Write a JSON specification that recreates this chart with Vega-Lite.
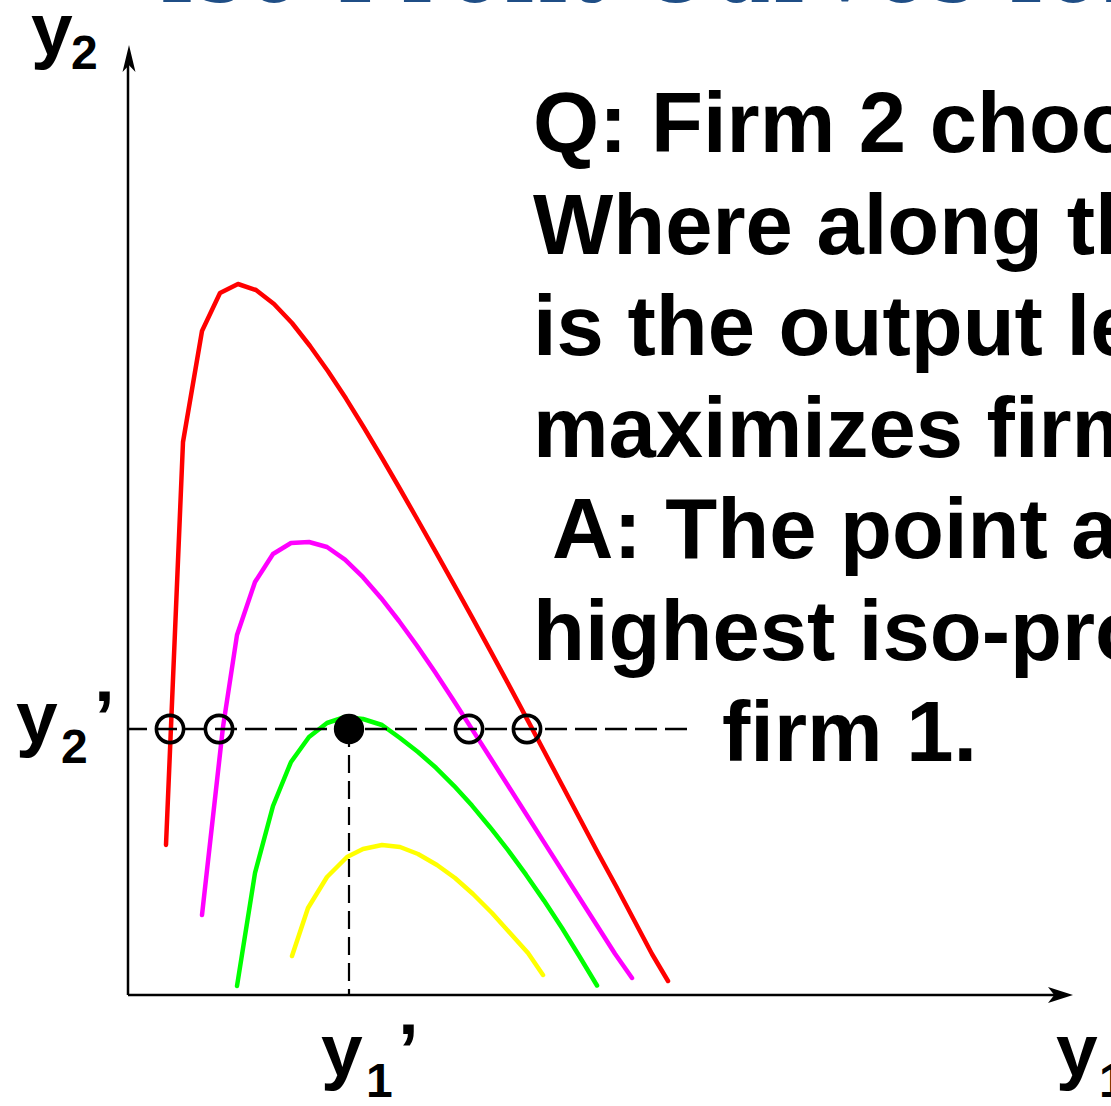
{
  "$schema": "https://vega.github.io/schema/vega-lite/v6.json",
  "width": 1111,
  "height": 1106,
  "autosize": "none",
  "padding": 0,
  "background": "white",
  "config": {"view": {"stroke": null}},
  "datasets": {
    "curves": [
      {"curve": "high", "i": 0, "x": 0.38, "y": 1.50},
      {"curve": "high", "i": 1, "x": 0.55, "y": 5.53},
      {"curve": "high", "i": 2, "x": 0.74, "y": 6.64},
      {"curve": "high", "i": 3, "x": 0.92, "y": 7.02},
      {"curve": "high", "i": 4, "x": 1.10, "y": 7.11},
      {"curve": "high", "i": 5, "x": 1.28, "y": 7.05},
      {"curve": "high", "i": 6, "x": 1.46, "y": 6.91},
      {"curve": "high", "i": 7, "x": 1.64, "y": 6.72},
      {"curve": "high", "i": 8, "x": 1.82, "y": 6.49},
      {"curve": "high", "i": 9, "x": 2.00, "y": 6.238},
      {"curve": "high", "i": 10, "x": 2.18, "y": 5.964},
      {"curve": "high", "i": 11, "x": 2.36, "y": 5.672},
      {"curve": "high", "i": 12, "x": 2.54, "y": 5.37},
      {"curve": "high", "i": 13, "x": 2.72, "y": 5.06},
      {"curve": "high", "i": 14, "x": 2.90, "y": 4.745},
      {"curve": "high", "i": 15, "x": 3.08, "y": 4.426},
      {"curve": "high", "i": 16, "x": 3.26, "y": 4.104},
      {"curve": "high", "i": 17, "x": 3.44, "y": 3.778},
      {"curve": "high", "i": 18, "x": 3.62, "y": 3.449},
      {"curve": "high", "i": 19, "x": 3.80, "y": 3.116},
      {"curve": "high", "i": 20, "x": 3.98, "y": 2.779},
      {"curve": "high", "i": 21, "x": 4.16, "y": 2.44},
      {"curve": "high", "i": 22, "x": 4.34, "y": 2.10},
      {"curve": "high", "i": 23, "x": 4.52, "y": 1.76},
      {"curve": "high", "i": 24, "x": 4.70, "y": 1.42},
      {"curve": "high", "i": 25, "x": 4.88, "y": 1.09},
      {"curve": "high", "i": 26, "x": 5.06, "y": 0.75},
      {"curve": "high", "i": 27, "x": 5.24, "y": 0.41},
      {"curve": "high", "i": 28, "x": 5.40, "y": 0.14},

      {"curve": "upper", "i": 0, "x": 0.74, "y": 0.80},
      {"curve": "upper", "i": 1, "x": 0.95, "y": 2.68},
      {"curve": "upper", "i": 2, "x": 1.09, "y": 3.60},
      {"curve": "upper", "i": 3, "x": 1.27, "y": 4.13},
      {"curve": "upper", "i": 4, "x": 1.45, "y": 4.41},
      {"curve": "upper", "i": 5, "x": 1.63, "y": 4.52},
      {"curve": "upper", "i": 6, "x": 1.81, "y": 4.53},
      {"curve": "upper", "i": 7, "x": 1.99, "y": 4.48},
      {"curve": "upper", "i": 8, "x": 2.17, "y": 4.354},
      {"curve": "upper", "i": 9, "x": 2.35, "y": 4.178},
      {"curve": "upper", "i": 10, "x": 2.53, "y": 3.971},
      {"curve": "upper", "i": 11, "x": 2.71, "y": 3.74},
      {"curve": "upper", "i": 12, "x": 2.89, "y": 3.492},
      {"curve": "upper", "i": 13, "x": 3.07, "y": 3.229},
      {"curve": "upper", "i": 14, "x": 3.25, "y": 2.955},
      {"curve": "upper", "i": 15, "x": 3.43, "y": 2.674},
      {"curve": "upper", "i": 16, "x": 3.61, "y": 2.393},
      {"curve": "upper", "i": 17, "x": 3.79, "y": 2.11},
      {"curve": "upper", "i": 18, "x": 3.97, "y": 1.827},
      {"curve": "upper", "i": 19, "x": 4.15, "y": 1.544},
      {"curve": "upper", "i": 20, "x": 4.33, "y": 1.261},
      {"curve": "upper", "i": 21, "x": 4.51, "y": 0.978},
      {"curve": "upper", "i": 22, "x": 4.69, "y": 0.695},
      {"curve": "upper", "i": 23, "x": 4.87, "y": 0.412},
      {"curve": "upper", "i": 24, "x": 5.04, "y": 0.17},

      {"curve": "best", "i": 0, "x": 1.09, "y": 0.09},
      {"curve": "best", "i": 1, "x": 1.27, "y": 1.22},
      {"curve": "best", "i": 2, "x": 1.45, "y": 1.89},
      {"curve": "best", "i": 3, "x": 1.63, "y": 2.33},
      {"curve": "best", "i": 4, "x": 1.81, "y": 2.58},
      {"curve": "best", "i": 5, "x": 1.99, "y": 2.72},
      {"curve": "best", "i": 6, "x": 2.17, "y": 2.78},
      {"curve": "best", "i": 7, "x": 2.35, "y": 2.76},
      {"curve": "best", "i": 8, "x": 2.54, "y": 2.70},
      {"curve": "best", "i": 9, "x": 2.72, "y": 2.57},
      {"curve": "best", "i": 10, "x": 2.90, "y": 2.43},
      {"curve": "best", "i": 11, "x": 3.08, "y": 2.272},
      {"curve": "best", "i": 12, "x": 3.26, "y": 2.092},
      {"curve": "best", "i": 13, "x": 3.44, "y": 1.894},
      {"curve": "best", "i": 14, "x": 3.62, "y": 1.678},
      {"curve": "best", "i": 15, "x": 3.80, "y": 1.448},
      {"curve": "best", "i": 16, "x": 3.98, "y": 1.203},
      {"curve": "best", "i": 17, "x": 4.16, "y": 0.944},
      {"curve": "best", "i": 18, "x": 4.34, "y": 0.67},
      {"curve": "best", "i": 19, "x": 4.52, "y": 0.378},
      {"curve": "best", "i": 20, "x": 4.69, "y": 0.095},

      {"curve": "low", "i": 0, "x": 1.64, "y": 0.39},
      {"curve": "low", "i": 1, "x": 1.80, "y": 0.87},
      {"curve": "low", "i": 2, "x": 1.99, "y": 1.18},
      {"curve": "low", "i": 3, "x": 2.19, "y": 1.38},
      {"curve": "low", "i": 4, "x": 2.35, "y": 1.46},
      {"curve": "low", "i": 5, "x": 2.54, "y": 1.50},
      {"curve": "low", "i": 6, "x": 2.72, "y": 1.48},
      {"curve": "low", "i": 7, "x": 2.90, "y": 1.41},
      {"curve": "low", "i": 8, "x": 3.09, "y": 1.30},
      {"curve": "low", "i": 9, "x": 3.27, "y": 1.17},
      {"curve": "low", "i": 10, "x": 3.45, "y": 1.01},
      {"curve": "low", "i": 11, "x": 3.64, "y": 0.82},
      {"curve": "low", "i": 12, "x": 3.82, "y": 0.62},
      {"curve": "low", "i": 13, "x": 4.00, "y": 0.42},
      {"curve": "low", "i": 14, "x": 4.15, "y": 0.20}
    ],
    "crossings": [
      {"x": 0.42, "y": 2.66},
      {"x": 0.91, "y": 2.66},
      {"x": 3.41, "y": 2.66},
      {"x": 3.99, "y": 2.66}
    ],
    "optimum": [{"x": 2.21, "y": 2.66}],
    "paragraph": [
      {"x": 4.05, "y": 8.43, "t": "Q: Firm 2 chooses y2’."},
      {"x": 4.05, "y": 7.415, "t": "Where along the line y2 = y2’"},
      {"x": 4.05, "y": 6.40, "t": "is the output level of firm 1 that"},
      {"x": 4.05, "y": 5.385, "t": "maximizes firm 1’s profit?"},
      {"x": 4.24, "y": 4.37, "t": "A: The point attaining the"},
      {"x": 4.05, "y": 3.355, "t": "highest iso-profit curve for"},
      {"x": 5.94, "y": 2.34, "t": "firm 1."}
    ],
    "symbols": [
      {"x": -0.97, "y": 9.40, "t": "y"},
      {"x": -1.12, "y": 2.52, "t": "y"},
      {"x": -0.34, "y": 2.52, "t": "’"},
      {"x": 1.93, "y": -0.81, "t": "y"},
      {"x": 2.70, "y": -0.81, "t": "’"},
      {"x": 9.28, "y": -0.81, "t": "y"}
    ],
    "subscripts": [
      {"x": -0.57, "y": 9.26, "t": "2"},
      {"x": -0.67, "y": 2.32, "t": "2"},
      {"x": 2.38, "y": -1.02, "t": "1"},
      {"x": 9.71, "y": -1.02, "t": "1"}
    ]
  },
  "encoding": {
    "x": {"field": "x", "type": "quantitative", "axis": null,
          "scale": {"domain": [-1.28, 9.83], "nice": false, "zero": false}},
    "y": {"field": "y", "type": "quantitative", "axis": null,
          "scale": {"domain": [-1.11, 9.95], "nice": false, "zero": false}}
  },
  "layer": [
    {
      "data": {"values": [{"x": 0.30, "y": 9.93, "t": "Iso-Profit Curves for Firm 2"}]},
      "mark": {"type": "text", "align": "left", "baseline": "alphabetic",
               "font": "DejaVu Serif", "fontSize": 96, "fill": "#1f4e86"},
      "encoding": {"text": {"field": "t"}}
    },
    {
      "data": {"name": "curves"},
      "mark": {"type": "line", "strokeWidth": 4.5, "strokeCap": "round", "strokeJoin": "round"},
      "encoding": {
        "order": {"field": "i", "type": "quantitative"},
        "color": {"field": "curve", "type": "nominal", "legend": null,
                  "scale": {"domain": ["high", "upper", "best", "low"],
                            "range": ["#ff0000", "#ff00ff", "#00ff00", "#ffff00"]}}
      }
    },
    {
      "data": {"values": [{"x": 0, "y": 0, "x2": 0, "y2": 9.3}, {"x": 0, "y": 0, "x2": 9.3, "y2": 0}]},
      "mark": {"type": "rule", "color": "black", "strokeWidth": 2.5},
      "encoding": {"x2": {"field": "x2"}, "y2": {"field": "y2"}}
    },
    {
      "data": {"values": [{"x": 0.01, "y": 9.365}]},
      "mark": {"type": "point", "shape": "M0,-1L0.48,1L0,0.5L-0.48,1Z", "size": 729,
               "filled": true, "color": "black", "opacity": 1},
      "encoding": {}
    },
    {
      "data": {"values": [{"x": 9.325, "y": 0}]},
      "mark": {"type": "point", "shape": "M1,0L-1,0.64L-0.5,0L-1,-0.64Z", "size": 625,
               "filled": true, "color": "black", "opacity": 1},
      "encoding": {}
    },
    {
      "data": {"values": [{"x": 0, "y": 2.66, "x2": 5.62, "y2": 2.66}]},
      "mark": {"type": "rule", "color": "black", "strokeWidth": 2.6,
               "strokeDash": [22, 8], "strokeDashOffset": 3},
      "encoding": {"x2": {"field": "x2"}, "y2": {"field": "y2"}}
    },
    {
      "data": {"values": [{"x": 2.21, "y": 2.66, "x2": 2.21, "y2": 0}]},
      "mark": {"type": "rule", "color": "black", "strokeWidth": 2.2, "strokeDash": [18, 8]},
      "encoding": {"x2": {"field": "x2"}, "y2": {"field": "y2"}}
    },
    {
      "data": {"name": "crossings"},
      "mark": {"type": "point", "shape": "circle", "size": 740, "filled": false,
               "stroke": "black", "strokeWidth": 3.6, "opacity": 1},
      "encoding": {}
    },
    {
      "data": {"name": "optimum"},
      "mark": {"type": "point", "shape": "circle", "size": 920, "filled": true,
               "color": "black", "opacity": 1},
      "encoding": {}
    },
    {
      "data": {"name": "paragraph"},
      "mark": {"type": "text", "align": "left", "baseline": "alphabetic",
               "font": "Liberation Sans", "fontWeight": "bold", "fontSize": 85, "fill": "black"},
      "encoding": {"text": {"field": "t"}}
    },
    {
      "data": {"name": "symbols"},
      "mark": {"type": "text", "align": "left", "baseline": "alphabetic",
               "font": "Liberation Sans", "fontWeight": "bold", "fontSize": 75, "fill": "black"},
      "encoding": {"text": {"field": "t"}}
    },
    {
      "data": {"name": "subscripts"},
      "mark": {"type": "text", "align": "left", "baseline": "alphabetic",
               "font": "Liberation Sans", "fontWeight": "bold", "fontSize": 48, "fill": "black"},
      "encoding": {"text": {"field": "t"}}
    }
  ]
}
